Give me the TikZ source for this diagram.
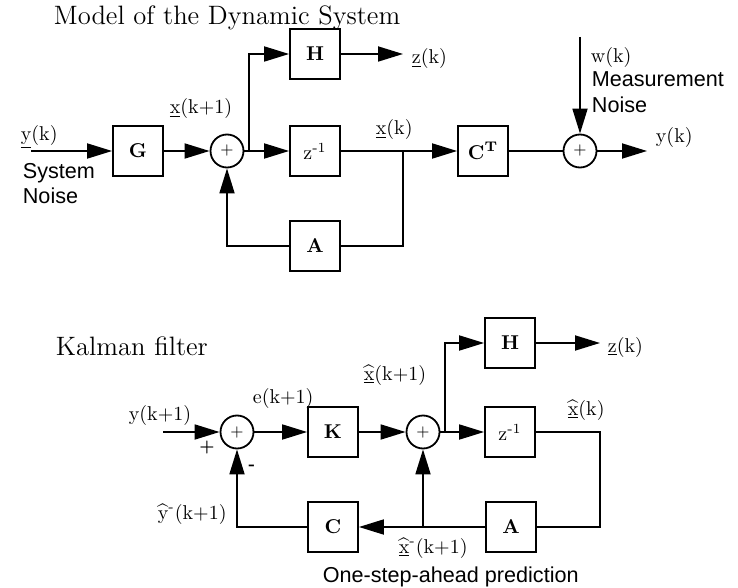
\documentclass[tikz,border=0pt]{standalone}
\usepackage{amsmath,amssymb}
\usepackage{fontspec}
\setsansfont{Liberation Sans}
\usepackage{tikz}
\usetikzlibrary{arrows.meta}

\begin{document}
\begin{tikzpicture}[x=0.5pt, y=-0.5pt, line width=0.9pt,
    blk/.style={draw, minimum size=25pt, inner sep=0pt, font=\bfseries},
    sum/.style={draw, circle, minimum size=16.5pt, inner sep=0pt, font=\footnotesize},
    arr/.style={-{Triangle[length=12.5pt,width=7.5pt]}},
    lbl/.style={anchor=base west, inner sep=0pt},
    ttl/.style={lbl, font=\fontsize{13.3}{16}\selectfont},
    snt/.style={lbl, font=\sffamily\fontsize{10.8}{13}\selectfont}]
    \useasboundingbox (0,0) rectangle (738,588);

    % Модель динамічної системи
    \node[ttl] (title1) at (53,25) {Model of the Dynamic System};
    \coordinate (in1) at (31,151);
    \node[blk] (G) at (138,151) {G};
    \node[sum] (S1) at (227,151) {+};
    \coordinate (J1) at (249,151);
    \node[blk] (H1) at (315,54) {H};
    \coordinate (z1) at (403,54);
    \node[blk, font=\normalfont] (Z1) at (315,151) {z\textsuperscript{-1}};
    \node[blk] (A1) at (315,246) {A};
    \coordinate (J2) at (403,151);
    \node[blk] (CT) at (483,151) {C\textsuperscript{T}};
    \node[sum] (S2) at (580,151) {+};
    \coordinate (w1) at (580,37);
    \coordinate (y1) at (647,151);

    % З'єднання
    \draw[arr] (in1) -- (G);
    \draw[arr] (G) -- (S1);
    \draw (S1) -- (J1);
    \draw[arr] (J1) -- (Z1);
    \draw[arr] (J1) |- (H1);
    \draw[arr] (H1) -- (z1);
    \draw[arr] (Z1) -- (CT);
    \draw (J2) |- (A1);
    \draw[arr] (A1) -| (S1);
    \draw (CT) -- (S2);
    \draw[arr] (w1) -- (S2);
    \draw[arr] (S2) -- (y1);

    % Підписи
    \node[lbl] (vlab) at (20,141) {\underline{y}(k)};
    \node[snt] (sys1) at (22,179) {System};
    \node[snt] (sys2) at (22,204) {Noise};
    \node[lbl] (xlab1) at (169,114) {\underline{x}(k+1)};
    \node[lbl] (zlab1) at (411,64) {\underline{z}(k)};
    \node[lbl] (xlab0) at (375,135) {\underline{x}(k)};
    \node[lbl] (wlab) at (590,63) {w(k)};
    \node[snt] (meas1) at (591,87) {Measurement};
    \node[snt] (meas2) at (591,113) {Noise};
    \node[lbl] (ylab1) at (655,143) {y(k)};

    % Фільтр Калмана
    \node[ttl] (title2) at (55,355) {Kalman filter};
    \coordinate (in2) at (163,432);
    \node[sum] (Sa) at (237,432) {+};
    \node[blk] (K) at (333,432) {K};
    \node[sum] (Sb) at (423,432) {+};
    \coordinate (J3) at (445,432);
    \node[blk] (H2) at (510,343) {H};
    \coordinate (z2) at (600,343);
    \node[blk, font=\normalfont] (Z2) at (510,432) {z\textsuperscript{-1}};
    \coordinate (R2) at (600,527);
    \node[blk] (A2) at (511,527) {A};
    \coordinate (J4) at (423,527);
    \node[blk] (C2) at (333,527) {C};

    % З'єднання
    \draw[arr] (in2) -- (Sa);
    \draw[arr] (Sa) -- (K);
    \draw[arr] (K) -- (Sb);
    \draw (Sb) -- (J3);
    \draw[arr] (J3) |- (H2);
    \draw[arr] (J3) -- (Z2);
    \draw[arr] (H2) -- (z2);
    \draw (Z2) -| (R2) -- (A2);
    \draw[arr] (A2) -- (C2);
    \draw[arr] (J4) -- (Sb);
    \draw[arr] (C2) -| (Sa);

    % Підписи
    \node[lbl] (ylab2) at (128,420) {y(k+1)};
    \node[font=\footnotesize\bfseries] (pl) at (207,447) {+};
    \node[font=\footnotesize\bfseries] (mn) at (252,467) {-};
    \node[lbl] (elab) at (252,403) {e(k+1)};
    \node[lbl] (xh1) at (363,380) {$\widehat{\underline{\mathrm{x}}}$(k+1)};
    \node[lbl] (xh0) at (567,415) {$\widehat{\underline{\mathrm{x}}}$(k)};
    \node[lbl] (zlab2) at (607,352) {\underline{z}(k)};
    \node[lbl] (yhm) at (157,519) {$\widehat{\mathrm{y}}$\textsuperscript{-}(k+1)};
    \node[lbl] (xhm) at (398,553) {$\widehat{\underline{\mathrm{x}}}$\textsuperscript{-}(k+1)};
    \node[snt] (pred) at (322,582) {One-step-ahead prediction};
\end{tikzpicture}
\end{document}
